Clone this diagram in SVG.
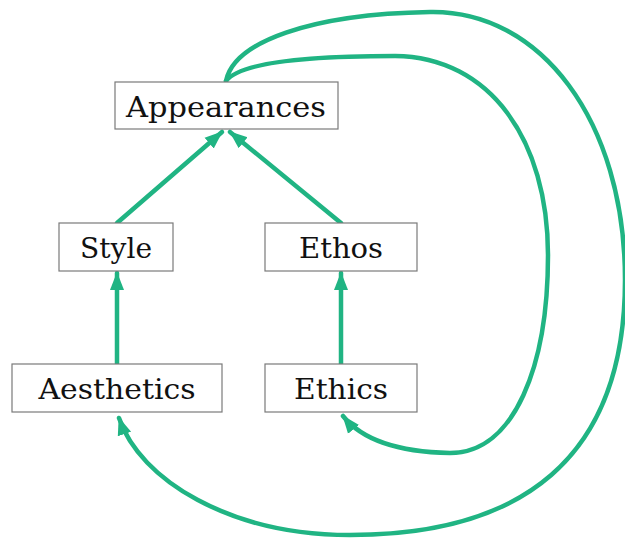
<svg xmlns="http://www.w3.org/2000/svg" width="625" height="538" viewBox="0 0 625 538">
<style>
.box{fill:#fff;stroke:#7a7a7a;stroke-width:1.2}
.lbl{font-family:"DejaVu Serif","Liberation Serif",serif;font-size:28px;fill:#111;text-anchor:middle}
.edge{fill:none;stroke:#20b483;stroke-width:4.5;stroke-linecap:round}
</style>
<defs>
<marker id="arr" markerUnits="userSpaceOnUse" markerWidth="18" markerHeight="18" viewBox="0 0 18 18" refX="17" refY="9" orient="auto">
<path d="M0,2 L18,9 L0,16 Z" fill="#20b483"/>
</marker>
</defs>
<rect width="625" height="538" fill="#fff"/>
<g id="connectors">
<path class="edge" d="M117,223 L222,132" marker-end="url(#arr)"/>
<path class="edge" d="M341,223 L230,132" marker-end="url(#arr)"/>
<path class="edge" d="M117,364 L117,273" marker-end="url(#arr)"/>
<path class="edge" d="M341,364 L341,273" marker-end="url(#arr)"/>
<path class="edge" d="M226,81 C234,42 310,14 430,12 C540,10 625,120 625,280 C625,460 520,535 350,535 C230,535 140,480 119,418" marker-end="url(#arr)"/>
<path class="edge" d="M226,81 C240,62 310,56 395,56 C490,57 548,140 548,255 C548,365 515,453 450,453 C400,452 362,440 343,416" marker-end="url(#arr)"/>
</g>
<g id="appearances">
<rect class="box" x="115" y="82" width="223" height="47"/>
<text class="lbl" x="226" y="117" textLength="200" lengthAdjust="spacingAndGlyphs">Appearances</text>
</g>
<g id="style">
<rect class="box" x="59" y="223" width="114" height="48"/>
<text class="lbl" x="116" y="258" textLength="72" lengthAdjust="spacingAndGlyphs">Style</text>
</g>
<g id="ethos">
<rect class="box" x="265" y="223" width="152" height="48"/>
<text class="lbl" x="341" y="258" textLength="84" lengthAdjust="spacingAndGlyphs">Ethos</text>
</g>
<g id="aesthetics">
<rect class="box" x="12" y="364" width="210" height="48"/>
<text class="lbl" x="117" y="399" textLength="157" lengthAdjust="spacingAndGlyphs">Aesthetics</text>
</g>
<g id="ethics">
<rect class="box" x="265" y="364" width="152" height="48"/>
<text class="lbl" x="341" y="399" textLength="94" lengthAdjust="spacingAndGlyphs">Ethics</text>
</g>
</svg>
